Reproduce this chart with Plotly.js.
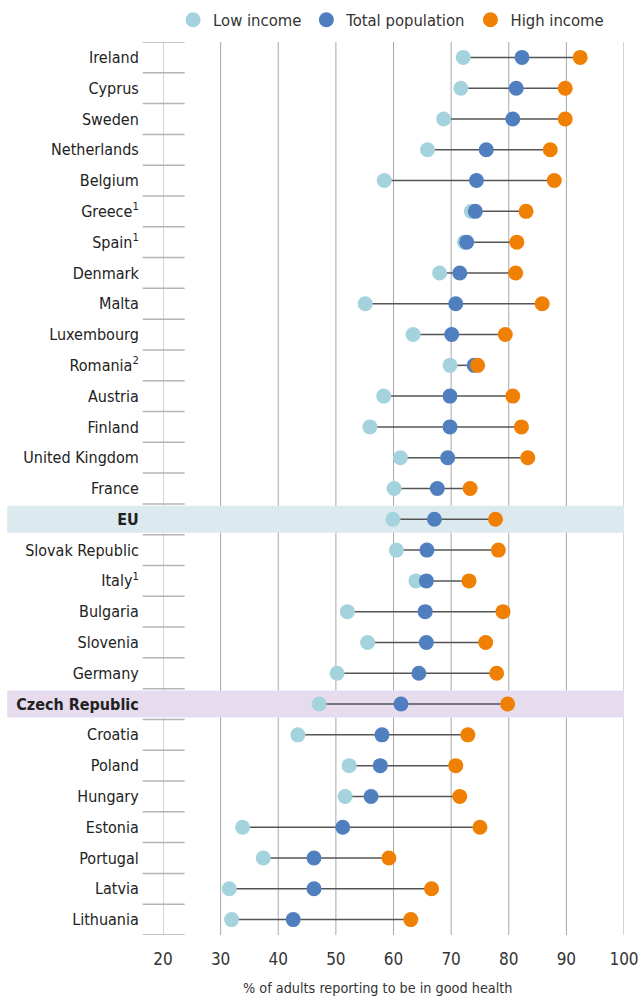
<!DOCTYPE html>
<html><head><meta charset="utf-8">
<script src="https://cdn.plot.ly/plotly-3.0.1.min.js"></script>
<style>html,body{margin:0;padding:0;background:#fff}</style>
</head><body><div id="chart" style="width:641px;height:998px"></div>
<script>
const countryLabels = ["Ireland","Cyprus","Sweden","Netherlands","Belgium","Greece<sup>1</sup>","Spain<sup>1</sup>","Denmark","Malta","Luxembourg","Romania<sup>2</sup>","Austria","Finland","United Kingdom","France","<b>EU</b>","Slovak Republic","Italy<sup>1</sup>","Bulgaria","Slovenia","Germany","<b>Czech Republic</b>","Croatia","Poland","Hungary","Estonia","Portugal","Latvia","Lithuania"];
const lowIncome  = [72.1,71.7,68.7,65.9,58.4,73.5,72.3,68.0,55.1,63.4,69.8,58.3,55.9,61.2,60.1,59.9,60.5,63.9,52.0,55.5,50.2,47.1,43.4,52.3,51.6,33.8,37.4,31.5,31.9];
const totalPop   = [82.3,81.3,80.7,76.1,74.4,74.2,72.7,71.5,70.8,70.1,74.0,69.8,69.8,69.4,67.6,67.1,65.8,65.7,65.5,65.7,64.4,61.3,58.0,57.7,56.1,51.2,46.2,46.2,42.6];
const highIncome = [92.4,89.8,89.8,87.2,87.9,83.0,81.4,81.2,85.8,79.4,74.6,80.7,82.2,83.3,73.3,77.7,78.2,73.1,79.0,76.0,77.9,79.8,72.9,70.8,71.5,75.0,59.2,66.6,63.0];
const xTicks = [20,30,40,50,60,70,80,90,100];
const seriesNames = ["Low income","Total population","High income"];
const highlightRows = ["<b>EU</b>","<b>Czech Republic</b>"];
const axisTitle = "% of adults reporting to be in good health";

const FONT = "'DejaVu Sans Condensed','Liberation Sans Narrow','Roboto Condensed',sans-serif";
const colors = ["#a5d3dd","#4f7fbf","#f08004"];
const bandColors = ["#dce9ef","#e6dcee"];

// connectors
const cx = [], cy = [];
countryLabels.forEach((c,i)=>{
  const vals = [lowIncome[i], totalPop[i], highIncome[i]];
  cx.push(Math.min(...vals), Math.max(...vals), null);
  cy.push(c, c, null);
});

const traces = [
  {x: cx, y: cy, mode: 'lines', type: 'scatter', line: {color: '#555', width: 1.5}, showlegend: false, hoverinfo: 'skip'},
];
[lowIncome, totalPop, highIncome].forEach((arr,k)=>{
  traces.push({x: arr, y: countryLabels, mode: 'markers', type: 'scatter', name: seriesNames[k],
    marker: {color: colors[k], size: 15, line: {width: 0}}});
});

const shapes = [];
xTicks.forEach(v=>{
  shapes.push({type:'line', xref:'x', yref:'paper', x0:v, x1:v, y0:0, y1:1, line:{color:'#a8a8a8', width:1}, layer:'below'});
});
for (let i=0;i<=countryLabels.length;i++){
  shapes.push({type:'line', xref:'paper', yref:'y', x0:-0.044, x1:0.047, y0:i-0.5, y1:i-0.5, line:{color:'#b4b4b4', width:1.5}, layer:'below'});
}
highlightRows.forEach((r,k)=>{
  const idx = countryLabels.indexOf(r);
  shapes.push({type:'rect', xref:'paper', yref:'y', x0:-0.338, x1:1, y0:idx-0.44, y1:idx+0.44, fillcolor:bandColors[k], line:{width:0}, layer:'below'});
});

const layout = {
  width: 641, height: 998,
  margin: {l:163, r:17, t:42, b:63},
  paper_bgcolor:'#fff', plot_bgcolor:'rgba(0,0,0,0)',
  font: {family: FONT, size: 16, color:'#222'},
  showlegend: true,
  legend: {orientation:'h', xref:'container', yref:'container', x:0.27, xanchor:'left', y:0.98, yanchor:'middle', font:{family:FONT, size:16.5, color:'#333'}, bgcolor:'rgba(0,0,0,0)'},
  xaxis: {range:[20,100], tickvals: xTicks, showgrid:false, zeroline:false, showline:false, ticks:'outside', ticklen:9, tickcolor:'rgba(0,0,0,0)', tickfont:{family:FONT, size:17, color:'#333'}, fixedrange:true},
  yaxis: {type:'category', categoryorder:'array', categoryarray: countryLabels, range:[countryLabels.length-0.5, -0.5], showgrid:false, zeroline:false, showline:false, ticks:'outside', ticklen:20, tickcolor:'rgba(0,0,0,0)', tickfont:{family:FONT, size:16, color:'#222'}, fixedrange:true},
  shapes: shapes,
  annotations: [{text: axisTitle, xref:'paper', yref:'paper', x:0.466, y:-0.0594, xanchor:'center', yanchor:'middle', showarrow:false, font:{family:FONT, size:14.3, color:'#333'}}]
};
Plotly.newPlot('chart', traces, layout, {displayModeBar:false, staticPlot:true});
</script></body></html>
